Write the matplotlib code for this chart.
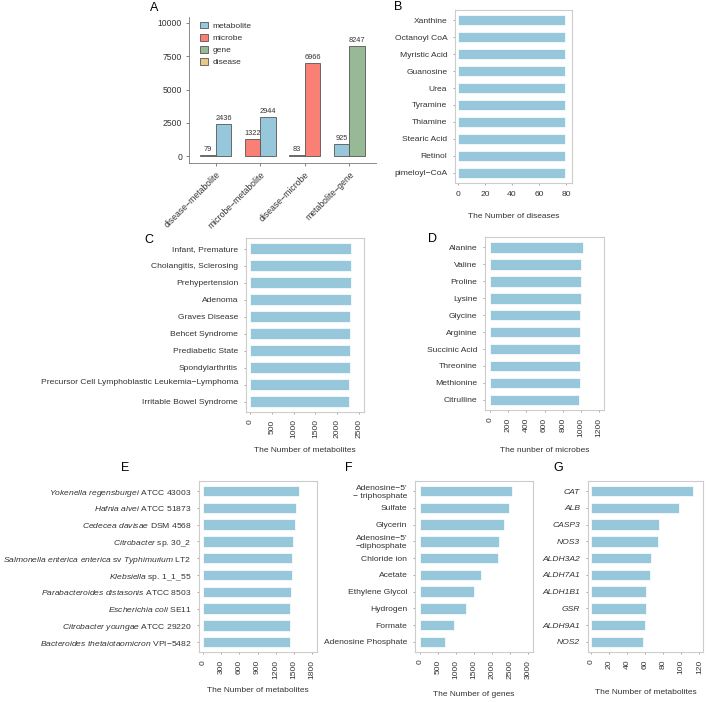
import numpy as np
import matplotlib
matplotlib.use("Agg")
from matplotlib import pyplot as plt
from matplotlib.patches import Patch

plt.rcParams["font.family"] = ["Liberation Sans", "DejaVu Sans"]
plt.rcParams["mathtext.fontset"] = "custom"
plt.rcParams["mathtext.rm"] = "Liberation Sans"
plt.rcParams["mathtext.it"] = "Liberation Sans:italic"

# ---- data ----
pairs = ["disease\u2212metabolite", "microbe\u2212metabolite", "disease\u2212microbe", "metabolite\u2212gene"]
left_type = ["disease", "microbe", "disease", "metabolite"]
left_count = [79, 1322, 83, 925]
right_type = ["metabolite", "metabolite", "microbe", "gene"]
right_count = [2436, 2944, 6966, 8247]

b_names = ["Xanthine", "Octanoyl CoA", "Myristic Acid", "Guanosine", "Urea",
           "Tyramine", "Thiamine", "Stearic Acid", "Retinol", "pimeloyl\u2212CoA"]
b_values = [79, 79, 79, 79, 79, 79, 79, 79, 79, 79]

c_names = ["Infant, Premature", "Cholangitis, Sclerosing", "Prehypertension", "Adenoma",
           "Graves Disease", "Behcet Syndrome", "Prediabetic State", "Spondylarthritis",
           "Precursor Cell Lymphoblastic Leukemia\u2212Lymphoma\n", "Irritable Bowel Syndrome"]
c_values = [2322, 2316, 2310, 2306, 2300, 2296, 2290, 2286, 2280, 2272]

d_names = ["Alanine", "Valine", "Proline", "Lysine", "Glycine", "Arginine",
           "Succinic Acid", "Threonine", "Methionine", "Citrulline"]
d_values = [1021, 1002, 1000, 997, 993, 990, 989, 988, 986, 979]

e_names = [r"$\mathit{Yokenella\ regensburgei}$ ATCC 43003",
           r"$\mathit{Hafnia\ alvei}$ ATCC 51873",
           r"$\mathit{Cedecea\ davisae}$ DSM 4568",
           r"$\mathit{Citrobacter}$ sp. 30_2",
           r"$\mathit{Salmonella\ enterica\ enterica}$ sv $\mathit{Typhimurium}$ LT2",
           r"$\mathit{Klebsiella}$ sp. 1_1_55",
           r"$\mathit{Parabacteroides\ distasonis}$ ATCC 8503",
           r"$\mathit{Escherichia\ coli}$ SE11",
           r"$\mathit{Citrobacter\ youngae}$ ATCC 29220",
           "$\\mathit{Bacteroides\\ thetaiotaomicron}$ VPI\u22125482"]
e_values = [1590, 1545, 1523, 1495, 1480, 1473, 1456, 1447, 1445, 1440]

f_names = ["Adenosine\u22125'\n\u2212 triphosphate", "Sulfate", "Glycerin",
           "Adenosine\u22125'\n\u2212diphosphate", "Chloride ion", "Acetate",
           "Ethylene Glycol", "Hydrogen", "Formate", "Adenosine Phosphate"]
f_values = [2557, 2474, 2318, 2197, 2170, 1698, 1504, 1274, 942, 693]

g_names = ["CAT", "ALB", "CASP3", "NOS3", "ALDH3A2", "ALDH7A1", "ALDH1B1", "GSR", "ALDH9A1", "NOS2"]
g_values = [113, 97, 75, 74, 67, 66, 61, 61, 60, 58]

colors = {"metabolite": "#97C7DB", "microbe": "#FA7F74", "gene": "#97B996", "disease": "#E6C987"}
bar_blue = "#97C7DB"
text_col = "#333333"

W, H = 708, 702
fig = plt.figure(figsize=(W / 100, H / 100), dpi=100)


def ax_at(l, t, r, b):
    return fig.add_axes([l / W, 1 - b / H, (r - l) / W, (b - t) / H])


def fig_text(x, y, s, **kw):
    fig.text(x / W, 1 - y / H, s, **kw)


# ---- A ----
ax = ax_at(189, 17, 376, 163)
x = np.arange(len(pairs))
w = 0.35
for i in range(len(pairs)):
    for dx, t, v in [(-w / 2, left_type[i], left_count[i]), (w / 2, right_type[i], right_count[i])]:
        ax.bar(x[i] + dx, v, width=w, color=colors[t], edgecolor="#555555", linewidth=0.6)
        ax.text(x[i] + dx, v + 150, str(v), ha="center", va="bottom", fontsize=5.3, color=text_col)
ax.set_xlim(-0.6, 3.6)
ax.set_ylim(-500, 10450)
ax.set_yticks([0, 2500, 5000, 7500, 10000])
ax.set_xticks(x)
ax.set_xticklabels(pairs, rotation=45, ha="right", rotation_mode="anchor")
ax.tick_params(labelsize=6.2, colors="#555555", labelcolor=text_col, length=2, width=0.5, pad=3)
for s in ["top", "right"]:
    ax.spines[s].set_visible(False)
for s in ["left", "bottom"]:
    ax.spines[s].set_color("#777777")
    ax.spines[s].set_linewidth(0.6)
handles = [Patch(facecolor=colors[k], edgecolor="#555555", linewidth=0.6, label=k)
           for k in ["metabolite", "microbe", "gene", "disease"]]
ax.legend(handles=handles, loc="upper left", bbox_to_anchor=(0.02, 1.02), frameon=False,
          fontsize=6, handlelength=0.9, handleheight=0.9, handletextpad=0.6, labelspacing=0.45,
          labelcolor=text_col)
fig_text(150, 8, "A", fontsize=9, va="center", ha="left")


# ---- horizontal bar panels ----
def hbar_panel(box, names, values, xlim, xticks, rotate, xlabel, label_y):
    a = ax_at(*box)
    n = len(names)
    y = n - 1 - np.arange(n)
    a.barh(y, values, height=0.62, color=bar_blue, edgecolor="white", linewidth=0.5)
    a.set_ylim(-0.6, n - 0.4)
    a.set_xlim(*xlim)
    a.set_yticks(y)
    a.set_yticklabels(names)
    a.set_xticks(xticks)
    if rotate:
        a.set_xticklabels([str(t) for t in xticks], rotation=90)
    a.tick_params(labelsize=6.1, colors="#888888", labelcolor=text_col, length=1.5, width=0.5, pad=4)
    for s in a.spines.values():
        s.set_color("#cccccc")
        s.set_linewidth(0.8)
    fig_text((box[0] + box[2]) / 2, label_y, xlabel, fontsize=6, ha="center", va="center",
             color=text_col)
    return a


hbar_panel((455, 10, 572, 183), b_names, b_values, (-2, 84.4), [0, 20, 40, 60, 80],
           False, "The Number of diseases", 217)
fig_text(394, 7, "B", fontsize=9, va="center", ha="left")

hbar_panel((245.7, 238.3, 364, 411.7), c_names, c_values, (-98, 2615),
           [0, 500, 1000, 1500, 2000, 2500], True, "The Number of metabolites", 451)
fig_text(144, 240, "C", fontsize=9, va="center", ha="left")

hbar_panel((485, 237.3, 604.3, 410), d_names, d_values, (-58, 1259),
           [0, 200, 400, 600, 800, 1000, 1200], True, "The nunber of microbes", 451)
fig_text(428, 239, "D", fontsize=9, va="center", ha="left")

hbar_panel((199, 481, 316.7, 652.3), e_names, e_values, (-72, 1882),
           [0, 300, 600, 900, 1200, 1500, 1800], True, "The Number of metabolites", 690)
fig_text(121, 468, "E", fontsize=9, va="center", ha="left")

hbar_panel((415, 481, 533.3, 652), f_names, f_values, (-138, 3138),
           [0, 500, 1000, 1500, 2000, 2500, 3000], True, "The Number of genes", 695)
fig_text(345, 468, "F", fontsize=9, va="center", ha="left")

ag = hbar_panel((587.7, 481, 703.3, 652), g_names, g_values, (-3.3, 124.3),
                [0, 20, 40, 60, 80, 100, 120], True, "The Number of metabolites", 693)
for t in ag.get_yticklabels():
    t.set_fontstyle("italic")
fig_text(553, 468, "G", fontsize=9, va="center", ha="left")

fig.savefig("out.png", dpi=100)
